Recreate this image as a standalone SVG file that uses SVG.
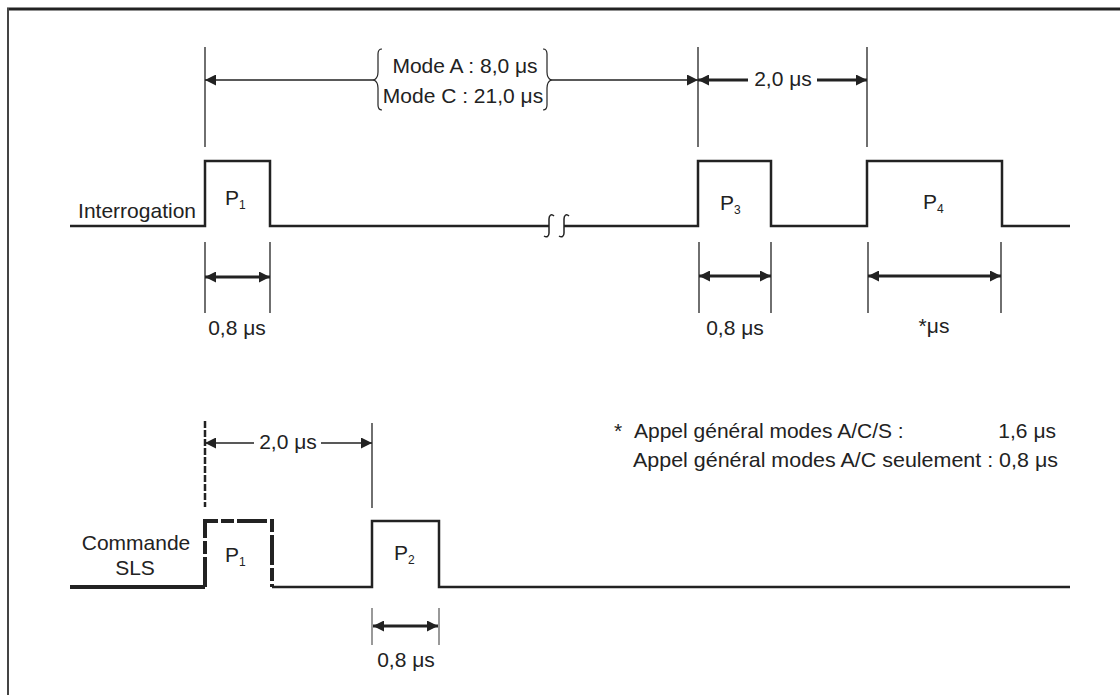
<svg xmlns="http://www.w3.org/2000/svg" width="1120" height="695" viewBox="0 0 1120 695">
<style>
text{font-family:"Liberation Sans",Arial,sans-serif;font-size:21px;fill:#222}
.sig{fill:none;stroke:#222;stroke-width:2.5}
.ext{stroke:#222;stroke-width:1.3}
.dim{stroke:#222;stroke-width:1.3;fill:none}
.dimb{stroke:#222;stroke-width:3;fill:none}
.sub{font-size:12px}
</style>
<defs>
<marker id="ah" viewBox="0 0 10 10" refX="10" refY="5" markerWidth="15" markerHeight="11" markerUnits="userSpaceOnUse" orient="auto-start-reverse">
<path d="M0,0 L10,5 L0,10 z" fill="#222"/>
</marker>
</defs>
<rect x="0" y="0" width="1120" height="695" fill="#fff"/>
<g id="frame">
<line x1="7" y1="9" x2="1120" y2="9" stroke="#222" stroke-width="3"/>
<line x1="8" y1="8" x2="8" y2="695" stroke="#444" stroke-width="2"/>
</g>
<g id="interrogation">
<path class="sig" d="M70,226 H205 V161 H270 V226 H549"/>
<path class="sig" d="M564,226 H698 V161 H771 V226 H867 V161 H1002 V226 H1070"/>
<path d="M554,216 c-3,-3 -5,0 -5,3 v14 c0,3 -2,5 -5,3 M569,216 c-3,-3 -5,0 -5,3 v14 c0,3 -2,5 -5,3" fill="none" stroke="#222" stroke-width="1.5"/>
<text x="196" y="218" text-anchor="end">Interrogation</text>
<text x="225" y="205">P<tspan class="sub" dy="4">1</tspan></text>
<text x="720" y="210">P<tspan class="sub" dy="4">3</tspan></text>
<text x="923" y="209">P<tspan class="sub" dy="4">4</tspan></text>
</g>
<g id="sls">
<path d="M70,587 H205" stroke="#222" stroke-width="4" fill="none"/>
<path d="M205,587 V521 H272 V587" stroke="#222" stroke-width="4" fill="none" stroke-dasharray="30,3,13,3"/>
<path class="sig" d="M272,587 H372 V521 H439 V587 H1070"/>
<text x="136" y="550" text-anchor="middle">Commande</text>
<text x="135" y="575" text-anchor="middle">SLS</text>
<text x="225" y="562">P<tspan class="sub" dy="4">1</tspan></text>
<text x="394" y="560">P<tspan class="sub" dy="4">2</tspan></text>
</g>
<g id="connectors">
<line class="ext" x1="205" y1="47" x2="205" y2="147"/>
<line class="ext" x1="698" y1="47" x2="698" y2="147"/>
<line class="ext" x1="867" y1="47" x2="867" y2="147"/>
<line class="dim" x1="205" y1="80" x2="374" y2="80" marker-start="url(#ah)"/>
<line class="dim" x1="550" y1="80" x2="698" y2="80" marker-end="url(#ah)"/>
<line class="dimb" x1="698" y1="80" x2="748" y2="80" marker-start="url(#ah)"/>
<line class="dimb" x1="817" y1="80" x2="867" y2="80" marker-end="url(#ah)"/>
<line class="ext" x1="205" y1="242" x2="205" y2="313"/>
<line class="ext" x1="270" y1="242" x2="270" y2="313"/>
<line class="dimb" x1="205" y1="277" x2="270" y2="277" marker-start="url(#ah)" marker-end="url(#ah)"/>
<line class="ext" x1="699" y1="242" x2="699" y2="313"/>
<line class="ext" x1="771" y1="242" x2="771" y2="313"/>
<line class="dimb" x1="699" y1="276" x2="771" y2="276" marker-start="url(#ah)" marker-end="url(#ah)"/>
<line class="ext" x1="868" y1="242" x2="868" y2="313"/>
<line class="ext" x1="1001" y1="242" x2="1001" y2="313"/>
<line class="dimb" x1="868" y1="276" x2="1001" y2="276" marker-start="url(#ah)" marker-end="url(#ah)"/>
<line x1="205" y1="421" x2="205" y2="507" stroke="#222" stroke-width="2.5" stroke-dasharray="7,2"/>
<line class="ext" x1="372" y1="423" x2="372" y2="508"/>
<line class="dim" x1="205" y1="443" x2="254" y2="443" marker-start="url(#ah)"/>
<line class="dim" x1="321" y1="443" x2="372" y2="443" marker-end="url(#ah)"/>
<line x1="372" y1="608" x2="372" y2="645" stroke="#999" stroke-width="2"/>
<line x1="439" y1="608" x2="439" y2="645" stroke="#999" stroke-width="2"/>
<line class="dimb" x1="373" y1="626" x2="438" y2="626" marker-start="url(#ah)" marker-end="url(#ah)"/>
</g>
<g id="labels">
<text x="465" y="73" text-anchor="middle">Mode A : 8,0 μs</text>
<text x="463" y="103" text-anchor="middle">Mode C : 21,0 μs</text>
<path d="M382,49 q-4,0 -4,5 v18 q0,6 -4,8 q4,2 4,8 v17 q0,5 4,5" fill="none" stroke="#222" stroke-width="1.2"/>
<path d="M543,49 q4,0 4,5 v18 q0,6 4,8 q-4,2 -4,8 v17 q0,5 -4,5" fill="none" stroke="#222" stroke-width="1.2"/>
<text x="783" y="86" text-anchor="middle">2,0 μs</text>
<text x="237" y="335" text-anchor="middle">0,8 μs</text>
<text x="735" y="335" text-anchor="middle">0,8 μs</text>
<text x="934" y="333" text-anchor="middle">*μs</text>
<text x="288" y="449" text-anchor="middle">2,0 μs</text>
<text x="406" y="667" text-anchor="middle">0,8 μs</text>
<text x="614" y="438">*</text>
<text x="634" y="438">Appel général modes A/C/S :</text>
<text x="1056" y="438" text-anchor="end">1,6 μs</text>
<text x="1058" y="467" text-anchor="end" textLength="425" lengthAdjust="spacingAndGlyphs">Appel général modes A/C seulement : 0,8 μs</text>
</g>
</svg>
